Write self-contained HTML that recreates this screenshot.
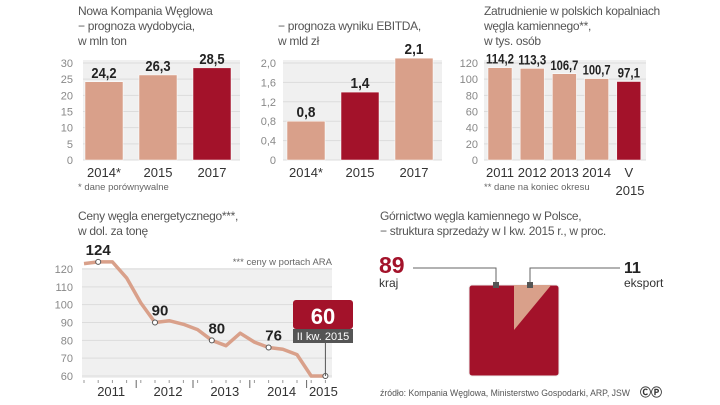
<!DOCTYPE html>
<html><head><meta charset="utf-8"><style>
body{margin:0;width:720px;height:405px;background:#fff;overflow:hidden;font-family:"Liberation Sans",sans-serif}
svg{position:absolute;left:0;top:0}
</style></head><body>
<svg width="720" height="405" viewBox="0 0 720 405">
<g id="g" font-family="Liberation Sans, sans-serif"></g>
</svg>
<script>
const c1Cats=["2014*","2015","2017"];const c1Vals=[24.2,26.3,28.5];const c1Ticks=[0,5,10,15,20,25,30];
const c2Cats=["2014*","2015","2017"];const c2Vals=[0.8,1.4,2.1];const c2Ticks=[0,0.4,0.8,1.2,1.6,2.0];
const c3Cats=["2011","2012","2013","2014","V"];const c3Vals=[114.2,113.3,106.7,100.7,97.1];const c3Ticks=[0,20,40,60,80,100,120];
const lineVals=[123,124,124,115,101,90,91,89,86,80,77,84,79,76,75,72,60,60];
const lineMarks=[1,5,9,13,17];const lineYears=["2011","2012","2013","2014","2015"];const lineTicks=[60,70,80,90,100,110,120];
const pieVals=[89,11];
const g=document.getElementById('g');const NS='http://www.w3.org/2000/svg';
function el(t,a,txt,name){const e=document.createElementNS(NS,t);for(const k in a)if(a[k]!==undefined)e.setAttribute(k,a[k]);if(txt!==undefined)e.textContent=txt;


g.appendChild(e);return e;}
const LIGHT='#d9a08a',DARK='#a3122a',GRID='#dcdcdc',BG='#f0f0f0',TXT='#555';
function fmt(v){return String(v).replace('.',',');}
function title(x,y,lines,n){lines.forEach((l,i)=>el('text',{x:x,y:y+i*15,'font-size':12,fill:TXT,'letter-spacing':'-0.3'},l,n+'-title-'+i));}
title(78,15,["Nowa Kompania Węglowa","− prognoza wydobycia,","w mln ton"],'c1');
title(278,30,["− prognoza wyniku EBITDA,","w mld zł"],'c2');
title(484,15,["Zatrudnienie w polskich kopalniach","węgla kamiennego**,","w tys. osób"],'c3');
function bars(cfg){const{x0,x1,y0,y1,max,ticks,cats,vals,bw,gap,first,cols,tf,lx,name}=cfg;
 el('rect',{x:x0,y:y1-3,width:x1-x0,height:y0-y1+3,fill:BG},undefined,name+'-plot-bg');
 const ys=v=>y0-(v/max)*(y0-y1);
 ticks.forEach(t=>{el('line',{x1:x0,x2:x1,y1:ys(t),y2:ys(t),stroke:GRID,'stroke-width':1},undefined,name+'-grid');
  el('text',{x:lx,y:ys(t)+4,'font-size':11,fill:'#888','text-anchor':'end'},tf(t),name+'-y-tick');});
 vals.forEach((v,i)=>{const bx=first+i*(bw+gap);const s=fmt(v);
  el('rect',{x:bx,y:ys(v),width:bw,height:y0-ys(v),fill:cols[i],stroke:'#fff','stroke-width':0.5},undefined,name+'-bar-'+i);
  el('text',{x:bx+bw/2,y:ys(v)-4,'font-size':cfg.vf||15,'font-weight':'bold',fill:'#222','text-anchor':'middle','textLength':s.length*(cfg.cw||6.3),'lengthAdjust':'spacingAndGlyphs'},s,name+'-value-'+i);
  el('text',{x:bx+bw/2,y:y0+17,'font-size':13,fill:'#333','text-anchor':'middle'},cats[i],name+'-x-label-'+i);});}
bars({x0:83,x1:240,y0:160,y1:63,max:30,ticks:c1Ticks,cats:c1Cats,vals:c1Vals,bw:38,gap:16,first:85,cols:[LIGHT,LIGHT,DARK],tf:t=>t,lx:73,name:'c1'});
bars({x0:283,x1:442,y0:160,y1:63,max:2.0,ticks:c2Ticks,cats:c2Cats,vals:c2Vals,bw:38,gap:16,first:287,cols:[LIGHT,DARK,LIGHT],tf:t=>t===0?'0':fmt(t.toFixed(1)),lx:276,name:'c2'});
bars({x0:484,x1:646,y0:160,y1:63,max:120,ticks:c3Ticks,cats:c3Cats,vals:c3Vals,bw:24,gap:8.2,first:488,cols:[LIGHT,LIGHT,LIGHT,LIGHT,DARK],tf:t=>t,lx:478,name:'c3',vf:14,cw:5.6});
el('text',{x:630,y:195,'font-size':13,fill:'#333','text-anchor':'middle'},"2015",'c3-x-label-v2');
el('text',{x:78,y:190,'font-size':9.5,fill:'#666'},"* dane porównywalne",'c1-footnote');
el('text',{x:484,y:190,'font-size':9.5,fill:'#666'},"** dane na koniec okresu",'c3-footnote');
// line chart
title(78,220,["Ceny węgla energetycznego***,","w dol. za tonę"],'c4');
el('text',{x:332,y:265,'font-size':9.5,fill:'#666','text-anchor':'end'},"*** ceny w portach ARA",'c4-note');
const LX0=84,LST=14.2,LY0=376,LY1=269;
const lx=i=>LX0+i*LST, ly=v=>LY0-(v-60)/60*(LY0-LY1);
el('rect',{x:82,y:268,width:250,height:110,fill:BG},undefined,'c4-plot-bg');
lineTicks.forEach(t=>{el('line',{x1:82,x2:332,y1:ly(t),y2:ly(t),stroke:GRID},undefined,'c4-grid');
 el('text',{x:73,y:ly(t)+4,'font-size':11,fill:'#888','text-anchor':'end'},t,'c4-y-tick');});
lineYears.forEach((y,i)=>{const cx=lx(lineMarks[i])+ (i==4?-2:13);
 el('text',{x:cx,y:396,'font-size':13,fill:'#333','text-anchor':'middle'},y,'c4-x-label');
 if(i<4)el('line',{x1:lx(lineMarks[i])+38,x2:lx(lineMarks[i])+38,y1:380,y2:388,stroke:'#666'},undefined,'c4-year-sep');});
for(let i=0;i<lineVals.length;i++)el('line',{x1:lx(i),x2:lx(i),y1:380,y2:383,stroke:'#999'},undefined,'c4-tick');
el('polyline',{points:lineVals.map((v,i)=>lx(i)+','+ly(v)).join(' '),fill:'none',stroke:LIGHT,'stroke-width':3.5,'stroke-linejoin':'round'},undefined,'c4-line');
lineMarks.forEach((m,k)=>{el('circle',{cx:lx(m),cy:ly(lineVals[m]),r:2.5,fill:'#fff',stroke:'#555','stroke-width':1},undefined,'c4-marker');
 if(k<4)el('text',{x:lx(m)+(k==0?0:5),y:ly(lineVals[m])-7,'font-size':15,'font-weight':'bold',fill:'#222','text-anchor':'middle'},lineVals[m],'c4-value-label');});
const last=lineVals.length-1;
el('line',{x1:lx(last),x2:lx(last),y1:342,y2:ly(lineVals[last]),stroke:'#555'},undefined,'c4-callout-line');
el('rect',{x:293,y:300,width:60,height:29,fill:DARK,rx:3},undefined,'c4-callout-top');
el('rect',{x:293,y:329,width:60,height:14,fill:'#555'},undefined,'c4-callout-bottom');
el('text',{x:323,y:324,'font-size':22,'font-weight':'bold',fill:'#fff','text-anchor':'middle'},lineVals[last],'c4-callout-value');
el('text',{x:323,y:340,'font-size':11,fill:'#fff','text-anchor':'middle'},"II kw. 2015",'c4-callout-label');
// pie square
title(380,220,["Górnictwo węgla kamiennego w Polsce,","− struktura sprzedaży w I kw. 2015 r., w proc."],'c5');
const SX=469,SY=285,SW=90,SH=91,CX=514,CY=330;
el('rect',{x:SX,y:SY,width:SW,height:SH,fill:DARK,rx:3,stroke:'#eee','stroke-width':1},undefined,'c5-share-kraj');
const ang=pieVals[1]/(pieVals[0]+pieVals[1])*2*Math.PI;
const ex=CX+(CY-SY)*Math.tan(ang);
el('polygon',{points:`${CX},${SY} ${ex},${SY} ${CX},${CY}`,fill:LIGHT},undefined,'c5-share-eksport');
el('polyline',{points:`413,268 496,268 496,285`,fill:'none',stroke:'#666'},undefined,'c5-leader-kraj');
el('polyline',{points:`530,285 530,268 620,268`,fill:'none',stroke:'#666'},undefined,'c5-leader-eksport');
el('rect',{x:493,y:282,width:6,height:6,fill:'#555'},undefined,'c5-marker');
el('rect',{x:527,y:282,width:6,height:6,fill:'#555'},undefined,'c5-marker');
el('text',{x:379,y:273,'font-size':23,'font-weight':'bold',fill:DARK},pieVals[0],'c5-value-kraj');
el('text',{x:379,y:287,'font-size':12,fill:'#333'},"kraj",'c5-label-kraj');
el('text',{x:624,y:273,'font-size':16,'font-weight':'bold',fill:'#222'},pieVals[1],'c5-value-eksport');
el('text',{x:624,y:287,'font-size':12,fill:'#333'},"eksport",'c5-label-eksport');
el('text',{x:380,y:396,'font-size':9.5,fill:'#555','textLength':250,'lengthAdjust':'spacingAndGlyphs'},"źródło: Kompania Węglowa, Ministerstwo Gospodarki, ARP, JSW",'source');
el('text',{x:640,y:396,'font-size':11,'font-weight':'bold',fill:'#333'},"ⒸⓅ",'copyright-icon');
</script>
</body></html>
